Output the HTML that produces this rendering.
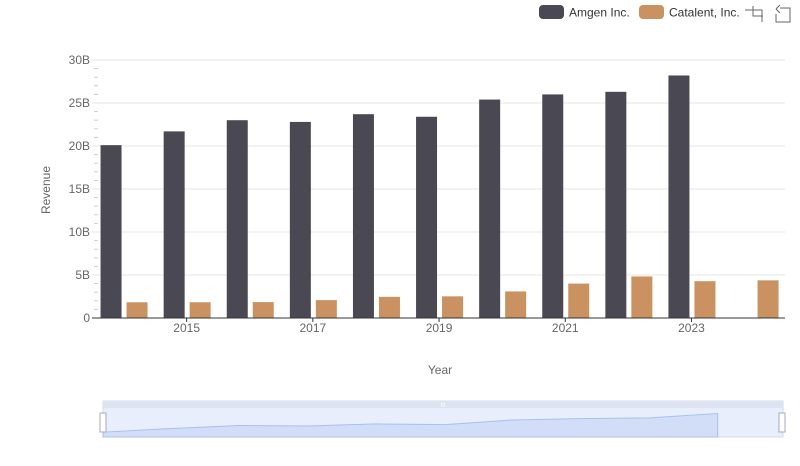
<!DOCTYPE html>
<html><head><meta charset="utf-8"><style>
body{margin:0;background:#fff;font-family:"Liberation Sans",sans-serif}
svg text{font-family:"Liberation Sans",sans-serif}
</style></head><body>
<svg id="c" width="800" height="461" viewBox="0 0 800 461">
<g>
<g><rect x="539" y="5" width="25" height="14" rx="4" fill="#4a4953"/><text x="569" y="16.5" font-size="12" fill="#333">Amgen Inc.</text></g>
<g><rect x="639" y="5" width="25" height="14" rx="4" fill="#c99260"/><text x="669" y="16.5" font-size="12" fill="#333">Catalent, Inc.</text></g>
<g stroke="#666" fill="none" stroke-width="1"><path d="M748 10h14v12M753 6v10h10M748 10h-3M753 16"/></g>
<g stroke="#666" fill="none" stroke-width="1"><path d="M780 8h10v14h-14v-8M776 9l4-4M776 9l4 4"/></g>
</g>
<g id="grid"></g>
<g id="bars"></g>
<g id="axes"></g>
<text x="50" y="190" font-size="12" fill="#666" text-anchor="middle" transform="rotate(-90 50 190)">Revenue</text>
<text x="440" y="374" font-size="12" fill="#666" text-anchor="middle">Year</text>
<g>
<rect x="103" y="401" width="680" height="36" fill="#e8eefb" stroke="#d4dbeb"/>
<rect x="103" y="401" width="680" height="7" fill="#dde3f1"/>
<path id="mini" fill="#d2def8" stroke="#a8c0ee" stroke-width="1"/>
<rect x="100" y="413" width="6" height="19" fill="#fff" stroke="#aab"/>
<rect x="779" y="413" width="6" height="19" fill="#fff" stroke="#aab"/>
<text x="443" y="407" font-size="6" fill="#fff" text-anchor="middle">III</text>
</g>
</svg>
<script>
const years=[2014,2015,2016,2017,2018,2019,2020,2021,2022,2023,2024];
const amgen=[20.1,21.7,23.0,22.8,23.7,23.4,25.4,26.0,26.3,28.2,null];
const catalent=[1.83,1.83,1.85,2.08,2.46,2.52,3.09,4.0,4.83,4.28,4.38];
const yTicks=[0,5,10,15,20,25,30];
const NS="http://www.w3.org/2000/svg";
const x0=92,step=63.1,y0=318,yk=8.6;
const xc=i=>x0+step*(i+0.5);
const ys=v=>y0-v*yk;
function mk(t,a,p){const e=document.createElementNS(NS,t);for(const k in a)e.setAttribute(k,a[k]);p.appendChild(e);return e;}
const grid=document.getElementById('grid'),bars=document.getElementById('bars'),axes=document.getElementById('axes');
yTicks.forEach(v=>{
 if(v>0){const l=mk('line',{x1:x0,x2:785,y1:ys(v),y2:ys(v),stroke:'#e6e6e6'},grid);
 
 }
 const t=mk('text',{x:x0-2,y:ys(v)+4,'font-size':12,fill:'#666','text-anchor':'end'},axes);
 t.textContent=v===0?'0':v+'B';
 
 
});
for(let v=0;v<=30;v+=1){if(v%5)mk('line',{x1:x0+2,x2:x0+6,y1:ys(v),y2:ys(v),stroke:'#ccc'},axes);}
mk('line',{x1:x0,x2:785,y1:y0,y2:y0,stroke:'#333'},axes);
years.forEach((y,i)=>{
 if(amgen[i]!=null){const r=mk('rect',{x:xc(i)-23,y:ys(amgen[i]),width:21,height:amgen[i]*yk,fill:'#4a4953'},bars);
 
 }
 const r2=mk('rect',{x:xc(i)+3,y:ys(catalent[i]),width:21,height:catalent[i]*yk,fill:'#c99260'},bars);
 
 
 if(i%2===1){const t=mk('text',{x:xc(i),y:332,'font-size':12,fill:'#666','text-anchor':'middle'},axes);
 t.textContent=y;
 
 
 mk('line',{x1:xc(i),x2:xc(i),y1:y0,y2:y0+4,stroke:'#333'},axes);}
});
const ms=68.3,mx=i=>103+ms*i,my=v=>437-(v-18)*2.3;
let d='M103 437';let last=0;
amgen.forEach((v,i)=>{if(v!=null){d+=' L'+mx(i)+' '+my(v);last=i;}});
d+=' L'+mx(last)+' 437 Z';
document.getElementById('mini').setAttribute('d',d);
</script>
</body></html>
